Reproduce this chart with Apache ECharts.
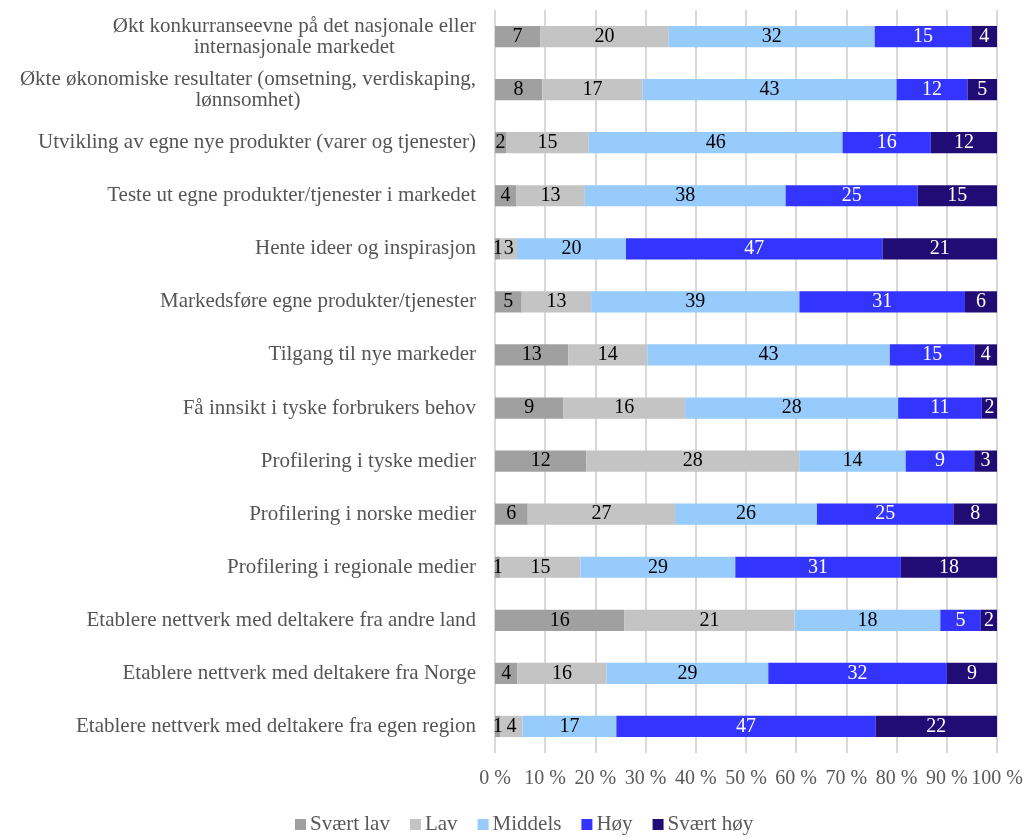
<!DOCTYPE html>
<html>
<head>
<meta charset="utf-8">
<script src="https://cdn.jsdelivr.net/npm/echarts@6/dist/echarts.min.js"></script>
<style>
  html, body { margin: 0; padding: 0; background: #fff; }
  #chart { width: 1026px; height: 838px; }
</style>
</head>
<body>
<div id="chart"></div>
<script>
// kategorier, ovenfra og ned
var categories = [
  'Økt konkurranseevne på det nasjonale eller\ninternasjonale markedet',
  'Økte økonomiske resultater (omsetning, verdiskaping,\nlønnsomhet)',
  'Utvikling av egne nye produkter (varer og tjenester)',
  'Teste ut egne produkter/tjenester i markedet',
  'Hente ideer og inspirasjon',
  'Markedsføre egne produkter/tjenester',
  'Tilgang til nye markeder',
  'Få innsikt i tyske forbrukers behov',
  'Profilering i tyske medier',
  'Profilering i norske medier',
  'Profilering i regionale medier',
  'Etablere nettverk med deltakere fra andre land',
  'Etablere nettverk med deltakere fra Norge',
  'Etablere nettverk med deltakere fra egen region'
];

var seriesNames = ['Svært lav', 'Lav', 'Middels', 'Høy', 'Svært høy'];

var svaertLav = [7, 8, 2, 4, 1, 5, 13, 9, 12, 6, 1, 16, 4, 1];
var lav       = [20, 17, 15, 13, 3, 13, 14, 16, 28, 27, 15, 21, 16, 4];
var middels   = [32, 43, 46, 38, 20, 39, 43, 28, 14, 26, 29, 18, 29, 17];
var hoy       = [15, 12, 16, 25, 47, 31, 15, 11, 9, 25, 31, 5, 32, 47];
var svaertHoy = [4, 5, 12, 15, 21, 6, 4, 2, 3, 8, 18, 2, 9, 22];

var tickLabels = ['0 %', '10 %', '20 %', '30 %', '40 %', '50 %', '60 %', '70 %', '80 %', '90 %', '100 %'];

var colors = ['#a0a0a0', '#c4c4c4', '#96cbfc', '#3335ff', '#200c74'];
var labelColors = ['#000', '#000', '#000', '#fff', '#fff'];

(function () {
  var raw = [svaertLav, lav, middels, hoy, svaertHoy];
  var totals = categories.map(function (c, i) {
    var s = 0;
    for (var k = 0; k < raw.length; k++) s += raw[k][i];
    return s;
  });

  var font = '"Liberation Serif", "DejaVu Serif", serif';

  var series = raw.map(function (vals, k) {
    return {
      name: seriesNames[k],
      type: 'bar',
      stack: 'total',
      barWidth: '40%',
      itemStyle: { color: colors[k] },
      label: {
        show: true,
        position: 'inside',
        fontFamily: font,
        fontSize: 20,
        color: labelColors[k],
        formatter: function (p) {
          return String(raw[k][p.dataIndex]);
        }
      },
      emphasis: { disabled: true },
      data: vals.map(function (v, i) {
        return v / totals[i] * 100;
      })
    };
  });

  var chart = echarts.init(document.getElementById('chart'), null, { renderer: 'canvas' });
  chart.setOption({
    backgroundColor: '#ffffff',
    animation: false,
    textStyle: { fontFamily: font },
    grid: { left: 495, right: 29, top: 10, bottom: 85, containLabel: false },
    legend: {
      bottom: -2,
      left: 290,
      itemWidth: 11,
      itemHeight: 11,
      itemGap: 20,
      icon: 'rect',
      data: seriesNames,
      textStyle: { fontFamily: font, fontSize: 21, color: '#595959', padding: [0, 0, 0, -1] }
    },
    xAxis: {
      type: 'value',
      min: 0,
      max: 100,
      interval: 10,
      axisLine: { show: false },
      axisTick: { show: false },
      splitLine: { show: true, lineStyle: { color: '#d9d9d9', width: 2 } },
      axisLabel: {
        margin: 16,
        fontFamily: font,
        fontSize: 20,
        color: '#595959',
        formatter: function (v) {
          return tickLabels[Math.round(v / 10)];
        }
      }
    },
    yAxis: {
      type: 'category',
      inverse: true,
      data: categories,
      axisLine: { show: false },
      axisTick: { show: false },
      axisLabel: {
        margin: 19,
        fontFamily: font,
        fontSize: 21,
        color: '#555555',
        lineHeight: 21,
        formatter: function (v) {
          return v.split('\n').map(function (l) { return '{c|' + l + '}'; }).join('\n');
        },
        rich: {
          c: { align: 'center', fontFamily: font, fontSize: 21, color: '#555555', lineHeight: 21 }
        }
      }
    },
    series: series
  });
})();
</script>
</body>
</html>
